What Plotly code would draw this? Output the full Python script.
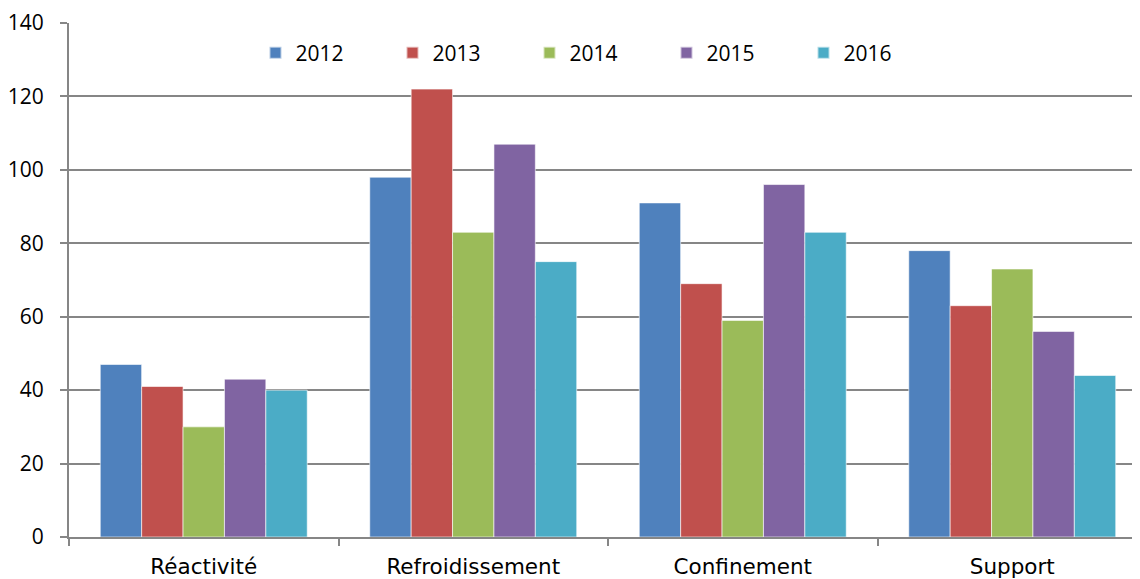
import plotly.graph_objects as go

categories = ["Réactivité", "Refroidissement", "Confinement", "Support"]
years = ["2012", "2013", "2014", "2015", "2016"]
v2012 = [47, 98, 91, 78]
v2013 = [41, 122, 69, 63]
v2014 = [30, 83, 59, 73]
v2015 = [43, 107, 96, 56]
v2016 = [40, 75, 83, 44]
series = [v2012, v2013, v2014, v2015, v2016]
colors = ["#4F81BD", "#C0504D", "#9BBB59", "#8064A2", "#4BACC6"]

FONT = "Open Sans"
CAT_FONT = "DejaVu Sans"

fig = go.Figure()
for name, vals, col in zip(years, series, colors):
    fig.add_trace(go.Bar(
        x=categories, y=vals, name=name,
        marker=dict(color=col, line=dict(color="rgba(255,255,255,0.6)", width=1)),
    ))

fig.update_layout(
    width=1140, height=579,
    margin=dict(l=61, r=1, t=15, b=50),
    paper_bgcolor="white", plot_bgcolor="white",
    barmode="group", bargap=0.232, bargroupgap=0,
    font=dict(family=FONT, size=21, color="black"),
    legend=dict(
        orientation="h", x=0.173, xanchor="left", y=0.9416, yanchor="middle",
        entrywidth=92, entrywidthmode="pixels",
        font=dict(family=FONT, size=21, color="black"),
        itemsizing="constant", traceorder="normal",
        bgcolor="rgba(0,0,0,0)",
    ),
    xaxis=dict(
        range=[-0.5, 3.5], automargin=False,
        showline=True, linecolor="#868686", linewidth=2,
        ticks="outside", tickson="boundaries", ticklen=7, tickcolor="#868686", tickwidth=2,
        showgrid=False, tickfont=dict(family=CAT_FONT, size=21.5, color="black"),
        ticklabelstandoff=9,
    ),
    yaxis=dict(
        range=[0, 140], dtick=20, automargin=False,
        showline=True, linecolor="#868686", linewidth=2,
        ticks="outside", ticklen=7, tickcolor="#868686", tickwidth=2,
        showgrid=True, gridcolor="#868686", gridwidth=2,
        zeroline=False,
        tickfont=dict(family=FONT, size=21, color="black"),
        ticklabelstandoff=12,
    ),
)

fig.write_html("out.html")
